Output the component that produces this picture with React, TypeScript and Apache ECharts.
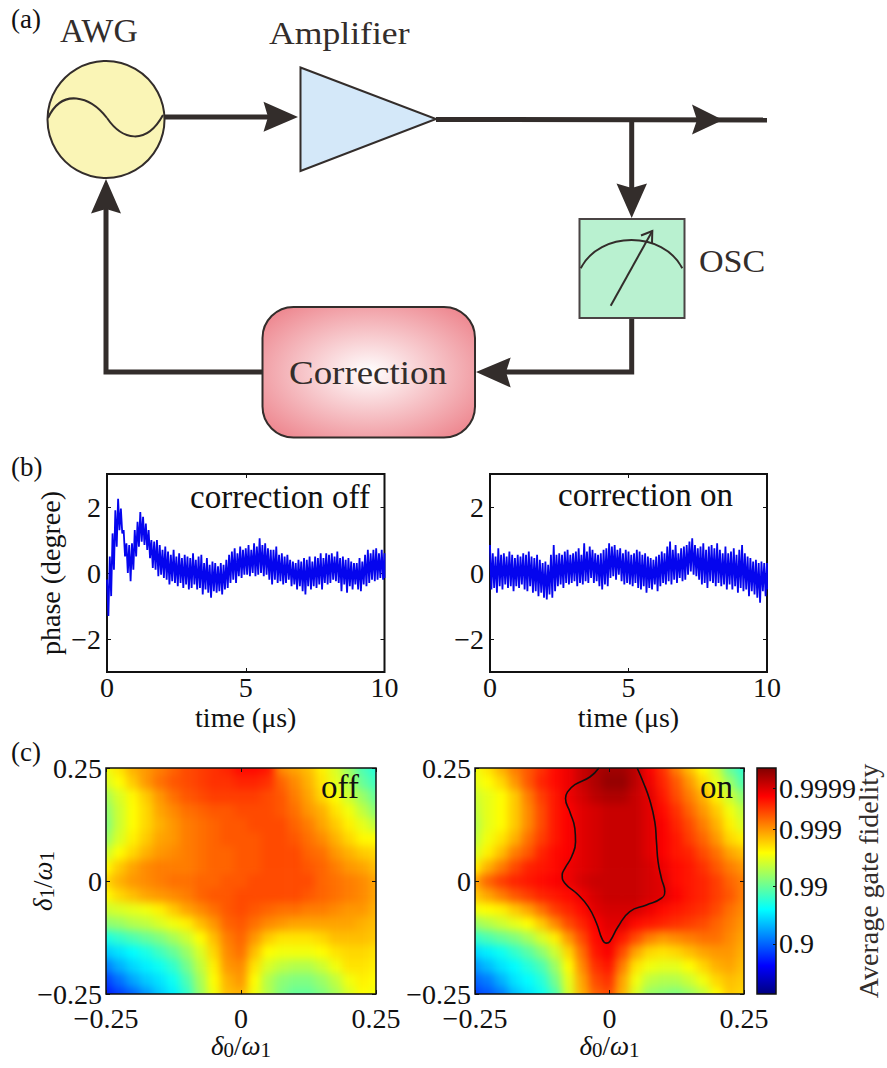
import React, { useEffect, useRef } from "react";
import * as echarts from "echarts";

const FONT = "Liberation Serif";
const INK = "#332d2b";
const JET = ["#000080", "#0000ff", "#0080ff", "#00ffff", "#80ff80", "#ffff00", "#ff8000", "#ff0000", "#800000"];
const SCALE_MIN = 0.12;
const SCALE_MAX = 4.08;

const TIME_STEP = 0.1;
const offUpper = [-0.2,0.5,1.2,1.9,2.25,1.95,1.3,0.9,0.85,0.9,1.3,1.55,1.85,1.7,1.5,1.3,1.0,0.95,1.0,0.85,
  0.7,0.8,0.65,0.55,0.7,0.5,0.6,0.45,0.55,0.5,
  0.45,0.6,0.4,0.5,0.55,0.3,0.45,0.25,0.35,0.3,
  0.2,0.3,0.25,0.4,0.55,0.65,0.75,0.6,0.8,0.7,
  0.75,0.85,0.7,0.9,0.8,1.05,0.85,0.9,0.75,0.7,
  0.7,0.8,0.55,0.6,0.5,0.55,0.4,0.35,0.3,0.4,
  0.35,0.45,0.4,0.5,0.35,0.5,0.45,0.6,0.45,0.6,
  0.55,0.6,0.5,0.65,0.45,0.5,0.4,0.45,0.35,0.3,
  0.3,0.45,0.35,0.55,0.7,0.6,0.7,0.75,0.6,0.7,0.6];
const offLower = [-1.3,-0.7,0.1,0.8,1.3,1.2,0.5,0,-0.25,0.1,0.5,0.8,0.95,0.85,0.7,0.45,0.15,0.1,-0.1,-0.05,
  -0.15,-0.2,-0.35,-0.25,-0.3,-0.4,-0.3,-0.45,-0.35,-0.5,
  -0.45,-0.35,-0.5,-0.45,-0.65,-0.5,-0.6,-0.75,-0.55,-0.6,
  -0.55,-0.65,-0.5,-0.45,-0.3,-0.2,-0.3,-0.1,-0.15,-0.05,
  -0.05,-0.1,0,-0.1,-0.05,0,-0.1,-0.05,-0.2,-0.35,
  -0.2,-0.3,-0.25,-0.35,-0.3,-0.2,-0.4,-0.35,-0.5,-0.4,
  -0.55,-0.65,-0.4,-0.5,-0.4,-0.45,-0.35,-0.5,-0.3,-0.35,
  -0.3,-0.2,-0.25,-0.3,-0.55,-0.35,-0.6,-0.4,-0.5,-0.35,
  -0.5,-0.55,-0.35,-0.4,-0.3,-0.2,-0.25,-0.2,-0.15,-0.2,-0.15];
const onUpper = [0.85,0.6,0.5,0.75,0.55,0.6,0.5,0.65,0.55,0.45,
  0.55,0.5,0.6,0.55,0.65,0.5,0.45,0.55,0.4,0.3,
  0.35,0.25,0.55,0.85,0.55,0.6,0.55,0.65,0.7,0.55,
  0.6,0.65,0.75,0.55,0.9,0.65,0.8,0.7,0.6,0.55,
  0.6,0.7,0.75,0.9,0.8,0.85,0.7,0.75,0.6,0.7,
  0.65,0.55,0.6,0.7,0.65,0.55,0.6,0.5,0.45,0.4,
  0.5,0.55,0.65,0.6,0.8,0.95,0.7,0.85,0.6,0.75,
  0.8,0.85,0.95,1.05,0.85,0.75,0.8,0.9,0.7,0.8,
  0.85,0.75,0.9,0.7,0.6,0.8,0.6,0.65,0.75,0.55,
  0.7,0.85,0.6,0.5,0.45,0.35,0.4,0.3,0.35,0.3,0.3];
const onLower = [-0.5,-0.45,-0.6,-0.4,-0.5,-0.35,-0.45,-0.4,-0.55,-0.4,
  -0.45,-0.35,-0.5,-0.55,-0.4,-0.6,-0.55,-0.7,-0.6,-0.75,
  -0.8,-0.65,-0.75,-0.55,-0.4,-0.35,-0.45,-0.3,-0.35,-0.3,
  -0.25,-0.4,-0.3,-0.35,-0.25,-0.3,-0.15,-0.3,-0.25,-0.4,
  -0.5,-0.35,-0.4,-0.15,-0.1,-0.2,-0.05,-0.25,-0.35,-0.3,
  -0.35,-0.4,-0.3,-0.45,-0.5,-0.4,-0.6,-0.45,-0.5,-0.35,
  -0.55,-0.4,-0.3,-0.35,-0.25,-0.35,-0.2,-0.3,-0.15,-0.25,
  -0.2,-0.05,0.05,-0.05,-0.1,-0.2,-0.35,-0.3,-0.45,-0.25,
  -0.3,-0.4,-0.3,-0.4,-0.35,-0.5,-0.35,-0.5,-0.4,-0.6,
  -0.45,-0.55,-0.5,-0.7,-0.55,-0.65,-0.75,-0.9,-0.55,-0.7,-0.5];

// colour-bar level of each grid node, rows from delta1 = 0.25 down to -0.25, columns from delta0 = -0.25 to 0.25
const heatOff = [
  [2.55,2.7,2.9,3.0,3.1,3.2,3.3,3.35,3.4,3.45,3.55,3.55,3.5,3.05,2.95,2.85,2.65,2.45,2.2,1.9,1.75],
  [2.45,2.6,2.8,3.0,3.15,3.25,3.3,3.35,3.4,3.4,3.45,3.45,3.4,3.2,3.05,2.9,2.7,2.5,2.3,2.0,1.85],
  [2.25,2.45,2.62,2.8,3.0,3.15,3.25,3.3,3.35,3.35,3.35,3.35,3.3,3.25,3.1,2.95,2.75,2.6,2.4,2.2,2.0],
  [2.15,2.4,2.6,2.75,2.95,3.05,3.15,3.2,3.25,3.25,3.3,3.3,3.3,3.25,3.15,3.0,2.9,2.7,2.55,2.35,2.15],
  [2.1,2.4,2.6,2.75,2.9,3.0,3.1,3.15,3.2,3.25,3.25,3.3,3.3,3.3,3.2,3.1,2.95,2.8,2.65,2.5,2.35],
  [2.2,2.45,2.65,2.8,2.95,3.0,3.1,3.15,3.2,3.25,3.25,3.25,3.3,3.3,3.25,3.15,3.05,2.9,2.75,2.62,2.6],
  [2.4,2.6,2.75,2.9,3.0,3.05,3.1,3.15,3.2,3.2,3.25,3.25,3.3,3.3,3.3,3.2,3.15,3.0,2.9,2.8,2.75],
  [2.6,2.8,2.95,3.05,3.1,3.1,3.1,3.15,3.2,3.2,3.25,3.25,3.3,3.3,3.3,3.25,3.2,3.1,3.0,2.95,2.85],
  [2.75,2.9,3.0,3.05,3.1,3.15,3.15,3.2,3.2,3.25,3.25,3.3,3.3,3.3,3.3,3.3,3.2,3.15,3.1,3.05,2.95],
  [2.6,2.75,2.85,2.95,3.0,3.05,3.1,3.2,3.25,3.25,3.3,3.3,3.3,3.3,3.3,3.25,3.2,3.15,3.1,3.05,2.95],
  [2.4,2.45,2.5,2.55,2.65,2.8,2.95,3.05,3.15,3.25,3.3,3.25,3.2,3.15,3.15,3.1,3.1,3.05,3.0,3.0,2.9],
  [2.15,2.2,2.3,2.35,2.45,2.55,2.65,2.85,3.0,3.2,3.25,3.15,3.05,3.0,2.95,2.95,2.95,2.95,2.95,2.9,2.85],
  [1.7,1.8,1.9,2.0,2.1,2.25,2.4,2.6,2.85,3.1,3.2,3.0,2.8,2.7,2.7,2.7,2.75,2.85,2.85,2.85,2.8],
  [1.4,1.5,1.6,1.7,1.85,2.0,2.2,2.45,2.75,3.05,3.15,2.85,2.6,2.55,2.55,2.55,2.6,2.7,2.75,2.75,2.7],
  [1.1,1.3,1.45,1.55,1.65,1.8,2.05,2.35,2.65,3.0,3.05,2.7,2.45,2.35,2.3,2.3,2.4,2.55,2.7,2.7,2.65],
  [0.85,1.05,1.25,1.4,1.5,1.65,1.9,2.25,2.6,2.9,3.0,2.6,2.3,2.15,2.1,2.1,2.2,2.35,2.55,2.65,2.6],
  [0.7,0.85,1.0,1.2,1.4,1.55,1.8,2.2,2.55,2.85,2.9,2.55,2.3,2.1,2.0,2.0,2.1,2.25,2.45,2.6,2.55],
];
const heatOn = [
  [2.55,2.7,2.9,3.1,3.25,3.4,3.55,3.65,3.8,3.9,3.95,3.95,3.85,3.6,3.4,3.1,2.85,2.6,2.4,2.0,1.8],
  [2.5,2.6,2.75,3.0,3.25,3.45,3.55,3.65,3.8,3.9,4.0,4.0,3.85,3.65,3.45,3.25,3.0,2.75,2.5,2.2,1.9],
  [2.4,2.5,2.6,2.8,3.1,3.35,3.5,3.65,3.75,3.85,3.9,3.9,3.8,3.7,3.5,3.3,3.1,2.9,2.65,2.4,2.15],
  [2.35,2.5,2.6,2.8,3.05,3.3,3.5,3.6,3.7,3.75,3.8,3.8,3.8,3.7,3.55,3.4,3.2,3.0,2.8,2.55,2.35],
  [2.3,2.5,2.6,2.8,3.05,3.3,3.5,3.6,3.7,3.75,3.8,3.8,3.8,3.7,3.6,3.45,3.3,3.1,2.9,2.65,2.45],
  [2.35,2.55,2.7,2.9,3.15,3.35,3.5,3.6,3.7,3.75,3.8,3.8,3.8,3.7,3.6,3.5,3.35,3.2,3.0,2.75,2.65],
  [2.45,2.65,2.85,3.1,3.25,3.45,3.55,3.6,3.7,3.75,3.8,3.8,3.8,3.7,3.6,3.5,3.45,3.3,3.15,2.95,2.85],
  [2.65,2.9,3.1,3.3,3.45,3.5,3.55,3.65,3.7,3.75,3.8,3.8,3.8,3.75,3.65,3.55,3.5,3.4,3.25,3.1,3.0],
  [2.95,3.2,3.35,3.45,3.5,3.55,3.6,3.65,3.75,3.8,3.8,3.8,3.8,3.75,3.7,3.55,3.5,3.45,3.35,3.2,3.1],
  [2.8,2.95,3.1,3.25,3.35,3.45,3.5,3.55,3.65,3.75,3.8,3.8,3.8,3.75,3.7,3.6,3.5,3.45,3.35,3.25,3.1],
  [2.55,2.6,2.65,2.8,2.95,3.15,3.35,3.45,3.55,3.7,3.75,3.75,3.75,3.65,3.55,3.5,3.45,3.4,3.3,3.15,3.05],
  [2.2,2.3,2.4,2.5,2.6,2.8,3.05,3.3,3.45,3.6,3.7,3.7,3.55,3.5,3.45,3.4,3.35,3.3,3.2,3.1,3.0],
  [1.8,1.9,2.0,2.1,2.25,2.45,2.65,3.0,3.3,3.55,3.65,3.5,3.3,3.1,3.0,3.05,3.1,3.15,3.15,3.05,2.95],
  [1.45,1.55,1.65,1.8,1.95,2.15,2.4,2.75,3.15,3.5,3.6,3.3,2.95,2.75,2.7,2.75,2.85,2.95,3.0,3.0,2.9],
  [1.2,1.35,1.5,1.6,1.75,1.9,2.2,2.6,3.05,3.4,3.5,3.1,2.7,2.55,2.5,2.5,2.6,2.75,2.9,2.95,2.85],
  [1.0,1.1,1.3,1.5,1.6,1.75,2.05,2.5,2.95,3.3,3.4,2.95,2.55,2.35,2.3,2.3,2.4,2.55,2.75,2.85,2.8],
  [0.85,0.95,1.1,1.35,1.5,1.65,1.9,2.45,2.9,3.2,3.3,2.9,2.45,2.2,2.15,2.1,2.2,2.35,2.6,2.8,2.75],
];
const contourOn = [
  [-0.0198,0.25],[-0.0365,0.2301],[-0.0644,0.2132],[-0.078,0.1971],[-0.0817,0.1824],[-0.0736,0.1529],
  [-0.0644,0.1162],[-0.0631,0.0868],[-0.0705,0.0537],[-0.0829,0.0279],[-0.0879,0.0132],[-0.0829,-0.0051],
  [-0.0613,-0.0272],[-0.0396,-0.0566],[-0.0241,-0.0934],[-0.013,-0.1301],[-0.0056,-0.1375],[0.0006,-0.1338],
  [0.0161,-0.1007],[0.0377,-0.0676],[0.0687,-0.0529],[0.0965,-0.0382],[0.1027,-0.0235],[0.0965,0.0059],
  [0.0903,0.0426],[0.0873,0.0868],[0.0842,0.1309],[0.0749,0.1787],[0.0625,0.2191],[0.0514,0.25],
];
const barTicks = [1, 2, 3, 3.72];
const barLabels = ["0.9", "0.99", "0.999", "0.9999"];

const panelB1 = { left: 107, top: 474, width: 277.5, height: 198 };
const panelB2 = { left: 490, top: 474, width: 277, height: 198 };
const panelC1 = { left: 106, top: 768, width: 270, height: 226 };
const panelC2 = { left: 475, top: 768, width: 269, height: 226 };
const panelBar = { left: 757, top: 768, width: 19, height: 226 };
const PAD = 2;
const BLUR = 4;

const zigzag = (upper: number[], lower: number[]) => {
  const pts: number[][] = [];
  upper.forEach((u, i) => {
    pts.push([i * TIME_STEP, u]);
    if (i < upper.length - 1) pts.push([(i + 0.5) * TIME_STEP, lower[i]]);
    else pts.push([i * TIME_STEP, lower[i]]);
  });
  return pts;
};

const fmt = (v: number) => {
  if (v === 0) return "0";
  return v < 0 ? "\u2212" + Math.abs(v) : String(v);
};

const deltaName = (a: string) => `{i|δ}{s|${a}}{n|/}{i|ω}{s|1}`;
const deltaRich = {
  i: { fontFamily: FONT, fontStyle: "italic", fontSize: 27, color: "#111", lineHeight: 28, verticalAlign: "middle" },
  n: { fontFamily: FONT, fontSize: 27, color: "#111", lineHeight: 28 },
  s: { fontFamily: FONT, fontSize: 21, color: "#111", lineHeight: 28, verticalAlign: "bottom" },
};

const labelStyle = { fontFamily: FONT, fontSize: 28, color: "#111" };

function frameAxes(xMain: any, yMain: any, xValues: number[], yValues: number[], gridIndex: number, xMargin: number, yMargin: number) {
  const tick = { show: true, inside: true, length: 4, lineStyle: { color: "#111", width: 1 } };
  const xa = {
    type: "value", gridIndex, min: xMain.min, max: xMain.max, splitLine: { show: false },
    axisLine: { show: false, onZero: false }, axisTick: { ...tick, customValues: xValues },
  };
  const ya = {
    type: "value", gridIndex, min: yMain.min, max: yMain.max, splitLine: { show: false },
    axisLine: { show: false, onZero: false }, axisTick: { ...tick, customValues: yValues },
  };
  return {
    x: [
      { ...xa, position: "bottom", axisLabel: { ...labelStyle, lineHeight: 24, margin: xMargin, customValues: xValues, formatter: fmt, hideOverlap: false }, ...xMain.extra },
      { ...xa, position: "top", axisLabel: { show: false } },
    ],
    y: [
      { ...ya, position: "left", axisLabel: { ...labelStyle, margin: yMargin, customValues: yValues, formatter: fmt, hideOverlap: false }, ...yMain.extra },
      { ...ya, position: "right", axisLabel: { show: false } },
    ],
  };
}

const line = (x1: number, y1: number, x2: number, y2: number, w = 5) => ({
  type: "line", shape: { x1, y1, x2, y2 }, style: { stroke: INK, lineWidth: w },
});
const head = (pts: number[][]) => ({ type: "polygon", shape: { points: pts }, style: { fill: INK } });
const label = (text: string, x: number, y: number, fontSize: number, fill: string, scaleX = 1) => ({
  type: "text", x, y, scaleX,
  style: { text, x: 0, y: 0, fontFamily: FONT, fontSize, fill, textVerticalAlign: "middle", verticalAlign: "middle", align: "left" },
});

const schematic: any[] = [
  // connections
  line(163, 117, 272, 117),
  { type: "polyline", shape: { points: [[262, 372], [106, 372], [106, 205]] }, style: { stroke: INK, lineWidth: 5, fill: "none" } },
  line(436, 119.5, 767, 120),
  line(631.7, 120, 631.7, 195),
  { type: "polyline", shape: { points: [[631.7, 318], [631.7, 372], [505, 372]] }, style: { stroke: INK, lineWidth: 5, fill: "none" } },
  head([[298, 117], [263.5, 101.7], [268, 117], [263.5, 131.7]]),
  head([[723, 120], [692, 104.5], [697, 120], [692, 134.5]]),
  head([[631.7, 218], [616.5, 183.5], [631.7, 188], [647, 183.5]]),
  head([[476, 372], [510.7, 357.5], [506, 372], [510.7, 387.5]]),
  head([[106, 179], [91, 213.5], [106, 209], [121, 213.5]]),
  // AWG
  { type: "circle", shape: { cx: 106, cy: 119.5, r: 58.5 }, style: { fill: "#faf5b6", stroke: INK, lineWidth: 2 } },
  { type: "bezierCurve", shape: { x1: 48, y1: 118, cpx1: 62, cpy1: 88, cpx2: 90, cpy2: 96, x2: 107, y2: 118 }, style: { stroke: INK, lineWidth: 2, fill: "none" } },
  { type: "bezierCurve", shape: { x1: 107, y1: 118, cpx1: 122, cpy1: 140, cpx2: 146, cpy2: 146, x2: 163, y2: 115 }, style: { stroke: INK, lineWidth: 2, fill: "none" } },
  // amplifier
  { type: "polygon", shape: { points: [[300.5, 67.5], [436, 119], [300.5, 171]] }, style: { fill: "#d4e8f9", stroke: INK, lineWidth: 2 } },
  // oscilloscope
  { type: "rect", shape: { x: 579.5, y: 219, width: 105, height: 99 }, style: { fill: "#b9f1d0", stroke: "#4a4444", lineWidth: 2 } },
  { type: "bezierCurve", shape: { x1: 580.7, y1: 268.3, cpx1: 600, cpy1: 230.6, cpx2: 663, cpy2: 230.6, x2: 682.3, y2: 268.3 }, style: { stroke: INK, lineWidth: 2, fill: "none" } },
  line(610.7, 305.7, 652.3, 231, 2),
  { type: "polyline", shape: { points: [[641, 235.5], [652.3, 231], [652, 243]] }, style: { stroke: INK, lineWidth: 2, fill: "none" } },
  // correction
  {
    type: "rect", shape: { x: 262.5, y: 307, width: 212.5, height: 130.5, r: 31 },
    style: {
      stroke: INK, lineWidth: 2,
      fill: { type: "radial", x: 0.5, y: 0.5, r: 0.62, colorStops: [{ offset: 0, color: "#ffffff" }, { offset: 1, color: "#ee8a92" }] },
    },
  },
  label("AWG", 60, 31, 33, INK, 1.02),
  label("Amplifier", 269, 33, 31, INK, 1.15),
  label("OSC", 699, 262, 31, INK, 1.1),
  label("Correction", 289, 373, 33, INK, 1.12),
  label("(a)", 11, 19, 27, "#111"),
  label("(b)", 11, 467, 27, "#111"),
  label("(c)", 11, 752, 27, "#111"),
  label("correction off", 190, 497, 33, "#111"),
  label("correction on", 558, 495, 33, "#111"),
  label("off", 321, 787, 33, "#111"),
  label("on", 700, 787, 33, "#111"),
  {
    type: "rect", shape: { x: panelBar.left, y: panelBar.top, width: panelBar.width, height: panelBar.height },
    style: {
      stroke: "#111", lineWidth: 1.5,
      fill: {
        type: "linear", x: 0, y: 1, x2: 0, y2: 0,
        colorStops: JET.map((color, i) => ({ offset: i / (JET.length - 1), color })),
      },
    },
  },
];

function heatOption(rows: number[][]) {
  const nRows = rows.length;
  const nCols = rows[0].length;
  const data: number[][] = [];
  for (let r = -PAD; r < nRows + PAD; r++) {
    for (let c = -PAD; c < nCols + PAD; c++) {
      const rr = Math.min(nRows - 1, Math.max(0, r));
      const cc = Math.min(nCols - 1, Math.max(0, c));
      data.push([c + PAD, nRows - 1 - r + PAD, rows[rr][cc]]);
    }
  }
  const cats = (n: number) => Array.from({ length: n + 2 * PAD }, (_, i) => String(i));
  return {
    animation: false,
    grid: { left: 0, right: 0, top: 0, bottom: 0 },
    xAxis: { type: "category", data: cats(nCols), show: false },
    yAxis: { type: "category", data: cats(nRows), show: false },
    visualMap: { show: false, min: SCALE_MIN, max: SCALE_MAX, inRange: { color: JET }, calculable: false },
    series: [{ type: "heatmap", data, itemStyle: { borderWidth: 0 }, progressive: 0 }],
  };
}

function Heat({ panel, rows }: { panel: any; rows: number[][] }) {
  const ref = useRef<HTMLDivElement>(null);
  const nCols = rows[0].length;
  const nRows = rows.length;
  const cw = panel.width / (nCols - 1);
  const ch = panel.height / (nRows - 1);
  const off = PAD + 0.5;
  useEffect(() => {
    const chart = echarts.init(ref.current!, undefined, { renderer: "svg" });
    chart.setOption(heatOption(rows) as any);
    return () => chart.dispose();
  }, []);
  return (
    <div style={{ position: "absolute", left: panel.left, top: panel.top, width: panel.width, height: panel.height, overflow: "hidden" }}>
      <div
        ref={ref}
        style={{
          position: "absolute",
          left: -off * cw,
          top: -off * ch,
          width: (nCols + 2 * PAD) * cw,
          height: (nRows + 2 * PAD) * ch,
          filter: `blur(${BLUR}px)`,
        }}
      />
    </div>
  );
}

export default function App() {
  const ref = useRef<HTMLDivElement>(null);
  useEffect(() => {
    const chart = echarts.init(ref.current!, undefined, { renderer: "svg" });
    const nameBase = { nameLocation: "middle", nameMoveOverlap: false };
    const textName = { fontFamily: FONT, fontSize: 28, color: "#111" };
    const timeName = { ...nameBase, name: "time (μs)", nameGap: 33, nameTextStyle: { ...textName, lineHeight: 24 } };
    const b1 = frameAxes(
      { min: 0, max: 10, extra: timeName },
      {
        min: -3, max: 3,
        extra: { ...nameBase, name: "phase (degree)", nameGap: 43, nameRotate: 90, nameTextStyle: textName },
      },
      [0, 5, 10], [-2, 0, 2], 0, 3, 6,
    );
    const b2 = frameAxes({ min: 0, max: 10, extra: timeName }, { min: -3, max: 3, extra: {} }, [0, 5, 10], [-2, 0, 2], 1, 3, 6);
    const deltaX = { ...nameBase, name: deltaName("0"), nameGap: 38, nameTextStyle: { rich: deltaRich } };
    const c1 = frameAxes(
      { min: -0.25, max: 0.25, extra: deltaX },
      {
        min: -0.25, max: 0.25,
        extra: { ...nameBase, name: deltaName("1"), nameGap: 49, nameRotate: 90, nameTextStyle: { rich: deltaRich } },
      },
      [-0.25, 0, 0.25], [-0.25, 0, 0.25], 2, 12, 4,
    );
    const c2 = frameAxes({ min: -0.25, max: 0.25, extra: deltaX }, { min: -0.25, max: 0.25, extra: {} }, [-0.25, 0, 0.25], [-0.25, 0, 0.25], 3, 12, 4);
    const frame = { show: true, borderColor: "#111", borderWidth: 2, backgroundColor: "transparent" };
    const blue = { color: "#0505ee", width: 1.8, join: "bevel" };
    chart.setOption({
      animation: false,
      backgroundColor: "transparent",
      grid: [
        { ...panelB1, ...frame },
        { ...panelB2, ...frame },
        { ...panelC1, ...frame, borderWidth: 1.5 },
        { ...panelC2, ...frame, borderWidth: 1.5 },
        { ...panelBar, show: false },
      ],
      xAxis: [
        ...b1.x, ...b2.x, ...c1.x, ...c2.x,
        { type: "value", gridIndex: 4, min: 0, max: 1, show: false },
      ],
      yAxis: [
        ...b1.y, ...b2.y, ...c1.y, ...c2.y,
        {
          type: "value", gridIndex: 4, min: SCALE_MIN, max: SCALE_MAX, position: "right", z: 10,
          splitLine: { show: false }, axisLine: { show: false, onZero: false },
          axisTick: { show: true, inside: true, length: 3, customValues: barTicks, lineStyle: { color: "#111", width: 1 } },
          axisLabel: {
            ...labelStyle, margin: 3, customValues: barTicks, hideOverlap: false,
            formatter: (v: number) => barLabels[barTicks.indexOf(v)] ?? "",
          },
          ...nameBase, name: "Average gate fidelity", nameGap: 78, nameRotate: 90,
          nameTextStyle: { fontFamily: FONT, fontSize: 28, color: INK },
        },
      ],
      series: [
        { type: "line", xAxisIndex: 0, yAxisIndex: 0, symbol: "none", lineStyle: blue, data: zigzag(offUpper, offLower) },
        { type: "line", xAxisIndex: 2, yAxisIndex: 2, symbol: "none", lineStyle: blue, data: zigzag(onUpper, onLower) },
        { type: "line", xAxisIndex: 6, yAxisIndex: 6, symbol: "none", smooth: true, lineStyle: { color: "#111", width: 1.6 }, data: contourOn },
      ],
      graphic: { elements: schematic },
    } as any);
    return () => chart.dispose();
  }, []);
  return (
    <div style={{ position: "absolute", left: 0, top: 0, width: 887, height: 1068, background: "#fff" }}>
      <Heat panel={panelC1} rows={heatOff} />
      <Heat panel={panelC2} rows={heatOn} />
      <div ref={ref} style={{ position: "absolute", left: 0, top: 0, width: 887, height: 1068 }} />
    </div>
  );
}
